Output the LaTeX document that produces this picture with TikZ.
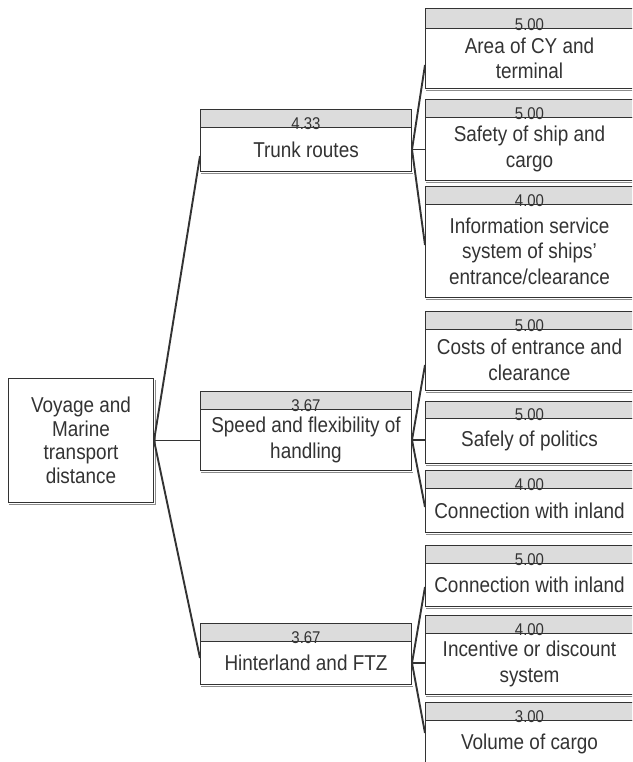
\documentclass[tikz,border=0pt]{standalone}
\usepackage{fontspec}
\setmainfont{Liberation Sans}[FakeStretch=0.88]
\usetikzlibrary{calc}

\definecolor{linec}{HTML}{333333}
\definecolor{hdrgray}{HTML}{DCDCDC}
\definecolor{shadowc}{HTML}{8C8C8C}
\definecolor{textc}{HTML}{333333}

\newcommand\bodyfont{\fontsize{21.5}{25.5}\selectfont}
\newcommand\rootfont{\fontsize{21.5}{23.5}\selectfont}
\newcommand\numfont{\fontsize{17}{18}\selectfont}

\tikzset{
  hdr/.style={draw=linec, line width=1pt, fill=hdrgray, anchor=north west, inner sep=0pt},
  body/.style={draw=linec, line width=1pt, fill=white, anchor=north west, inner sep=0pt,
    align=center, font=\bodyfont, text=textc},
  num/.style={anchor=base, inner sep=0pt, font=\numfont, text=textc},
  conn/.style={draw=linec, line width=1.9pt},
  stub/.style={draw=linec, line width=1.2pt},
  shade/.style={draw=shadowc, line width=1.2pt},
}

% #1 name, #2 left x, #3 top, #4 header bottom, #5 bottom, #6 width, #7 score, #8 label
\newcommand\catbox[8]{%
  \pgfmathsetmacro\hdrh{#4-#3}%
  \pgfmathsetmacro\bodyh{#5-#4}%
  \node[hdr, minimum width=#6pt, minimum height=\hdrh pt] (#1h) at (#2,#3) {};
  \node[body, minimum width=#6pt, minimum height=\bodyh pt] (#1) at (#2,#4) {#8};
  \draw[shade] ($(#1.south west)+(1,1.3)$) -- ($(#1.south east)+(1,1.3)$);
  \node[num] at ($(#1h.south)+(0,1.5)$) {#7};
}

\begin{document}
\begin{tikzpicture}[x=1pt,y=-1pt]
  \clip (0,0) rectangle (632,762);
  \useasboundingbox (0,0) rectangle (632,762);
  \fill[white] (0,0) rectangle (632,762);

  % root
  \node[body, font=\rootfont, minimum width=145pt, minimum height=124pt] (root) at (8,378)
    {Voyage and\\Marine\\transport\\distance};
  \draw[shade] ($(root.south west)+(1,1.3)$) -- ($(root.south east)+(1.3,1.3)$)
    -- ($(root.north east)+(1.3,2)$);

  % second level
  \catbox{trunk}{200}{109}{127}{171}{211}{4.33}{Trunk routes}
  \catbox{speed}{200}{391}{409}{470}{211}{3.67}{Speed and flexibility of\\handling}
  \catbox{hinter}{200}{623}{641}{684}{211}{3.67}{Hinterland and FTZ}

  % third level, trunk routes
  \catbox{area}{425}{8}{28}{88}{208}{5.00}{Area of CY and\\terminal}
  \catbox{safety}{425}{99}{117}{180}{208}{5.00}{Safety of ship and\\cargo}
  \catbox{info}{425}{186}{204}{297}{208}{4.00}{Information service\\system of ships'\\entrance/clearance}

  % third level, speed and flexibility
  \catbox{costs}{425}{311}{329}{390}{208}{5.00}{Costs of entrance and\\clearance}
  \catbox{politics}{425}{401}{418}{463}{208}{5.00}{Safely of politics}
  \catbox{inlandA}{425}{470}{488}{532}{208}{4.00}{Connection with inland}

  % third level, hinterland
  \catbox{inlandB}{425}{545}{563}{606}{208}{5.00}{Connection with inland}
  \catbox{incent}{425}{615}{633}{694}{208}{4.00}{Incentive or discount\\system}
  \catbox{volume}{425}{702}{720}{766}{208}{3.00}{Volume of cargo}

  % connectors from the root
  \draw[conn] (root.east) -- (trunk.west |- 0,156);
  \draw[conn] (root.east) -- (speed.west |- root.east);
  \draw[conn] (root.east) -- (hinter.west |- 0,658);

  % connectors from trunk routes
  \draw[conn] (trunk.east) -- (area.west |- 0,65);
  \draw[stub] (trunk.east) -- (safety.west |- trunk.east);
  \draw[conn] (trunk.east) -- (info.west |- 0,245);

  % connectors from speed and flexibility
  \draw[conn] (speed.east) -- (costs.west |- 0,365);
  \draw[stub] (speed.east) -- (politics.west |- speed.east);
  \draw[conn] (speed.east) -- (inlandA.west |- 0,507);

  % connectors from hinterland
  \draw[conn] (hinter.east) -- (inlandB.west |- 0,587);
  \draw[stub] (hinter.east) -- (incent.west |- hinter.east);
  \draw[conn] (hinter.east) -- (volume.west |- 0,733);
\end{tikzpicture}
\end{document}
